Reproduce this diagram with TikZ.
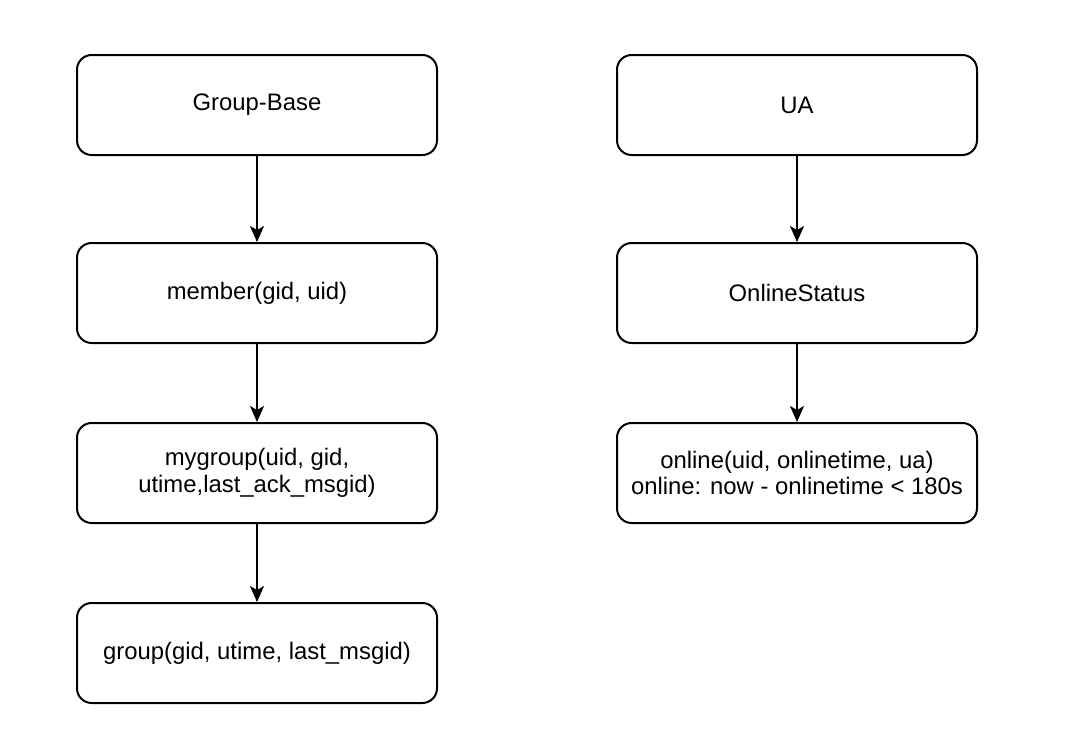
\documentclass[tikz,border=0pt]{standalone}
\usepackage{fontspec}
\setmainfont{Liberation Sans}
\usetikzlibrary{arrows.meta}
\begin{document}
\begin{tikzpicture}[x=0.75pt,y=-0.75pt,
  box/.style={draw, line width=1.5pt, rounded corners=11pt, minimum width=270pt, minimum height=75pt, align=center, inner sep=0pt, font=\fontsize{17.9}{20}\selectfont},
  conn/.style={line width=1.5pt, -{Stealth[length=12pt,width=10.5pt,inset=3pt]}}]
\useasboundingbox (0,0) rectangle (1086,740);
\node[box] (gb) at (257,105) {Group-Base};
\node[box] (mem) at (257,293) {member(gid, uid)};
\node[box] (myg) at (257,473) {mygroup(uid, gid,\\utime,last\_ack\_msgid)};
\node[box] (grp) at (257,653) {group(gid, utime, last\_msgid)};
\node[box] (ua) at (797,105) {UA};
\node[box] (os) at (797,293) {OnlineStatus};
\node[box] (onl) at (797,473) {online(uid, onlinetime, ua)\\online: now - onlinetime < 180s};
\draw[conn] (gb) -- (mem);
\draw[conn] (mem) -- (myg);
\draw[conn] (myg) -- (grp);
\draw[conn] (ua) -- (os);
\draw[conn] (os) -- (onl);
\end{tikzpicture}
\end{document}
